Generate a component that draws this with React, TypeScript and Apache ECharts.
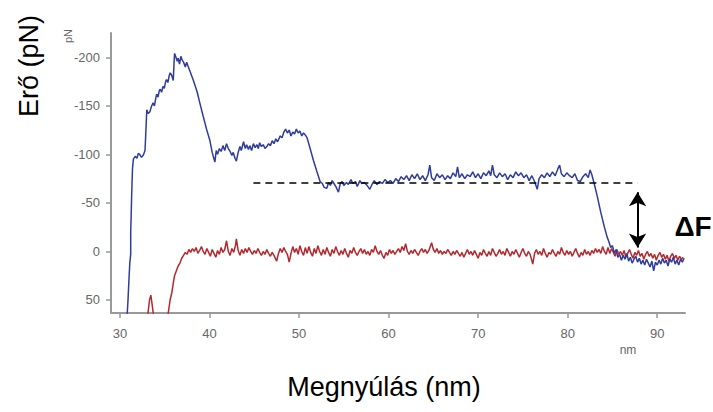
import React, { useEffect, useRef } from "react";
import * as echarts from "echarts";

const xTicks = [30, 40, 50, 60, 70, 80, 90];
const yTicks = [-200, -150, -100, -50, 0, 50];

const blueCurve: number[][] = [
  [30.8, 66], [30.9, 50], [31.0, 30], [31.1, 12], [31.2, 3], [31.2, -20], [31.25, -36], [31.3, -55], [31.35, -71], [31.4, -85],
  [31.5, -95], [31.7, -98], [31.9, -96], [32.05, -101], [32.2, -100], [32.4, -97], [32.6, -99], [32.8, -104], [32.9, -125], [33.0, -146],
  [33.15, -142], [33.35, -144], [33.5, -149], [33.7, -153], [33.85, -150], [34.0, -158], [34.1, -162], [34.25, -159], [34.4, -166], [34.5, -167],
  [34.65, -164], [34.8, -170], [34.95, -168], [35.1, -175], [35.2, -177], [35.35, -174], [35.5, -181], [35.6, -184], [35.75, -182], [35.9, -178],
  [35.95, -176], [36.05, -196], [36.1, -204], [36.25, -200], [36.4, -196], [36.5, -199], [36.65, -193], [36.8, -201], [36.95, -197], [37.1, -195],
  [37.3, -190], [37.45, -195], [37.6, -191], [37.8, -186], [38.2, -176], [38.6, -165], [39.0, -150], [39.3, -139], [39.7, -125], [40.05, -114],
  [40.3, -102], [40.45, -97], [40.6, -92], [40.75, -104], [40.9, -100], [41.1, -106], [41.3, -103], [41.5, -109], [41.7, -104], [41.9, -111],
  [42.1, -106], [42.3, -103], [42.5, -99], [42.65, -102], [42.85, -96], [43.0, -93], [43.2, -102], [43.4, -108], [43.55, -104], [43.8, -113],
  [44.0, -106], [44.15, -110], [44.35, -105], [44.5, -109], [44.7, -104], [44.9, -111], [45.1, -107], [45.3, -110], [45.45, -106], [45.6, -112],
  [45.8, -108], [46.0, -110], [46.2, -106], [46.4, -108], [46.6, -111], [46.8, -109], [47.0, -114], [47.2, -111], [47.4, -116], [47.6, -113],
  [47.9, -119], [48.1, -117], [48.3, -123], [48.5, -126], [48.7, -122], [48.9, -125], [49.1, -119], [49.3, -123], [49.5, -121], [49.7, -126],
  [49.9, -122], [50.1, -124], [50.3, -119], [50.5, -122], [50.7, -120], [50.9, -117], [51.3, -104], [51.6, -94], [52.0, -82], [52.35, -72],
  [52.6, -70], [52.8, -66], [53.1, -65], [53.3, -71], [53.5, -68], [53.7, -73], [53.9, -70], [54.1, -67], [54.4, -61], [54.6, -70],
  [54.8, -72], [55.0, -68], [55.3, -71], [55.5, -69], [55.8, -74], [56.0, -70], [56.3, -72], [56.5, -67], [56.8, -73], [57.0, -70],
  [57.3, -71], [57.6, -68], [57.9, -64], [58.2, -70], [58.4, -73], [58.7, -69], [59.0, -72], [59.3, -70], [59.6, -74], [59.9, -71],
  [60.2, -73], [60.5, -70], [60.8, -75], [61.1, -72], [61.4, -77], [61.7, -74], [62.0, -78], [62.3, -73], [62.6, -79], [62.9, -75],
  [63.2, -80], [63.5, -74], [63.8, -78], [64.1, -73], [64.4, -79], [64.6, -89], [64.8, -76], [65.1, -73], [65.4, -80], [65.7, -76],
  [66.0, -79], [66.3, -74], [66.6, -78], [66.9, -75], [67.2, -81], [67.5, -77], [67.7, -87], [67.9, -76], [68.2, -80], [68.5, -75],
  [68.8, -79], [69.1, -77], [69.4, -82], [69.7, -76], [70.0, -80], [70.3, -75], [70.6, -81], [70.9, -78], [71.2, -83], [71.4, -78],
  [71.6, -89], [71.8, -79], [72.1, -76], [72.4, -81], [72.7, -77], [73.0, -80], [73.3, -74], [73.6, -79], [73.9, -76], [74.2, -82],
  [74.5, -78], [74.8, -81], [75.1, -76], [75.4, -79], [75.7, -73], [76.0, -78], [76.3, -72], [76.6, -64], [76.8, -75], [77.1, -79],
  [77.4, -76], [77.7, -81], [78.0, -77], [78.3, -82], [78.6, -78], [78.9, -85], [79.1, -89], [79.3, -80], [79.6, -77], [79.9, -81],
  [80.2, -78], [80.5, -76], [80.8, -80], [81.1, -73], [81.4, -72], [81.7, -77], [82.0, -80], [82.3, -76], [82.5, -84], [82.7, -79],
  [82.9, -72], [83.3, -57], [83.7, -40], [84.1, -25], [84.4, -15], [84.6, -10], [84.8, -4], [85.0, -6], [85.2, 2], [85.4, -2],
  [85.6, 6], [85.8, 3], [86.0, 9], [86.2, 4], [86.4, 8], [86.6, 2], [86.8, 10], [87.0, 6], [87.2, 12], [87.4, 8],
  [87.6, 5], [87.8, 11], [88.0, 7], [88.2, 13], [88.4, 9], [88.6, 14], [88.8, 8], [89.0, 12], [89.2, 16], [89.4, 10],
  [89.6, 20], [89.8, 11], [90.0, 14], [90.2, 9], [90.4, 13], [90.6, 7], [90.8, 12], [91.0, 9], [91.2, 15], [91.4, 8],
  [91.6, 11], [91.8, 6], [92.0, 13], [92.2, 9], [92.4, 14], [92.6, 8], [92.8, 11], [93.0, 7],
];

const redBump: number[][] = [
  [33.1, 66], [33.3, 50], [33.45, 45], [33.6, 55], [33.75, 66],
];

const redCurve: number[][] = [
  [35.35, 66], [35.6, 50], [35.8, 42], [36.0, 30], [36.1, 25], [36.3, 20], [36.5, 15], [36.7, 12], [36.9, 7], [37.1, 4],
  [37.3, 1], [37.5, 3], [37.7, -2], [37.9, 1], [38.1, -3], [38.3, 0], [38.5, -4], [38.7, 2], [38.9, -1], [39.1, -5],
  [39.3, 0], [39.5, 3], [39.7, -3], [39.9, 1], [40.1, 5], [40.3, -2], [40.5, 2], [40.7, 6], [40.9, -1], [41.1, 3],
  [41.3, -4], [41.5, 1], [41.7, -2], [41.9, -11], [42.1, 0], [42.3, 4], [42.5, -3], [42.7, 1], [42.9, -6], [43.0, -13],
  [43.2, -1], [43.4, 4], [43.6, -2], [43.8, 2], [44.0, -3], [44.2, 1], [44.4, -4], [44.6, 0], [44.8, 3], [45.0, -1],
  [45.2, 2], [45.4, -3], [45.6, 1], [45.8, 4], [46.0, 0], [46.2, 3], [46.4, -2], [46.6, 2], [46.8, 5], [47.0, 1],
  [47.2, 4], [47.5, 10], [47.7, 2], [47.9, -3], [48.1, 1], [48.3, -4], [48.5, 0], [48.7, 3], [48.9, 11], [49.1, 2],
  [49.3, -5], [49.5, 1], [49.7, -3], [49.9, 3], [50.1, -6], [50.3, 0], [50.5, 4], [50.7, -4], [50.9, 2], [51.1, -5],
  [51.3, 1], [51.5, 5], [51.7, -3], [51.9, 2], [52.1, -6], [52.3, 0], [52.5, 4], [52.7, -2], [52.9, 3], [53.1, -4],
  [53.3, 1], [53.5, 5], [53.7, -2], [53.9, 2], [54.1, -5], [54.3, 0], [54.5, 4], [54.7, -1], [54.9, 3], [55.1, -3],
  [55.3, 2], [55.5, 6], [55.7, -1], [55.9, 2], [56.1, -4], [56.3, 1], [56.5, 4], [56.7, 0], [56.9, -3], [57.1, 2],
  [57.3, -2], [57.5, 3], [57.7, 0], [57.9, 4], [58.1, -2], [58.3, 1], [58.5, -6], [58.7, 0], [58.9, 3], [59.1, -1],
  [59.3, 4], [59.5, 7], [59.7, 1], [59.9, 4], [60.1, -2], [60.3, 2], [60.5, -1], [60.7, 3], [60.9, 0], [61.1, -3],
  [61.3, 1], [61.5, -5], [61.7, -1], [61.9, -8], [62.1, 0], [62.3, 3], [62.5, -1], [62.7, 2], [62.9, -2], [63.1, 1],
  [63.3, 4], [63.5, 0], [63.7, -3], [63.9, 1], [64.1, -2], [64.3, 2], [64.5, -1], [64.8, -9], [65.0, -2], [65.2, 1],
  [65.4, -3], [65.6, 2], [65.8, -1], [66.0, 3], [66.2, 0], [66.4, 2], [66.6, -2], [66.8, 1], [67.0, 4], [67.2, 0],
  [67.4, 3], [67.6, -1], [67.8, 2], [68.0, 5], [68.2, 1], [68.4, 6], [68.6, 2], [68.8, -2], [69.0, 3], [69.2, 0],
  [69.4, 4], [69.6, -1], [69.8, 3], [70.0, 7], [70.2, 1], [70.4, 4], [70.6, -2], [70.8, 2], [71.0, 5], [71.2, 0],
  [71.4, 4], [71.6, -3], [71.8, 1], [72.0, 5], [72.2, 2], [72.4, -2], [72.6, 3], [72.8, 0], [73.0, 4], [73.2, -3],
  [73.4, 1], [73.6, 5], [73.8, 0], [74.0, 3], [74.2, -2], [74.4, 2], [74.6, 6], [74.8, 1], [75.0, -3], [75.2, 2],
  [75.4, 5], [75.6, 0], [75.8, 3], [76.1, 13], [76.3, 2], [76.5, -2], [76.7, 3], [76.9, 0], [77.1, 4], [77.3, -3],
  [77.5, 2], [77.7, 6], [77.9, 1], [78.1, 3], [78.3, -2], [78.5, 2], [78.7, 5], [78.9, 0], [79.1, 3], [79.3, -4],
  [79.5, 1], [79.7, 4], [79.9, -1], [80.1, 3], [80.3, 0], [80.5, 5], [80.7, 1], [80.9, -3], [81.1, 2], [81.3, 6],
  [81.5, 1], [81.7, 4], [81.9, -2], [82.1, 3], [82.3, 0], [82.5, 4], [82.7, -1], [82.9, 2], [83.1, -3], [83.3, 1],
  [83.5, -2], [83.7, 2], [83.9, -5], [84.1, 0], [84.3, 3], [84.5, -4], [84.7, 2], [84.9, -3], [85.1, 1], [85.3, 5],
  [85.5, -2], [85.7, 3], [85.9, 0], [86.1, 4], [86.3, -1], [86.5, 6], [86.7, 2], [86.9, -2], [87.1, 3], [87.3, 7],
  [87.5, 1], [87.7, 4], [87.9, -1], [88.1, 5], [88.3, 2], [88.5, 8], [88.7, 3], [88.9, 0], [89.1, 5], [89.3, 2],
  [89.5, 7], [89.7, 3], [89.9, 9], [90.1, 4], [90.3, 1], [90.5, 6], [90.7, 3], [90.9, 8], [91.1, 4], [91.3, 10],
  [91.5, 5], [91.7, 2], [91.9, 7], [92.1, 4], [92.3, 9], [92.5, 5], [92.7, 8], [92.9, 6],
];

// annotation values (data coordinates)
const plateauLevel = -71;
const plateauFrom = 44.9;
const plateauTo = 87.8;
const deltaTop = -61;
const deltaBottom = -4;

export default function App() {
  const ref = useRef<HTMLDivElement>(null);
  useEffect(() => {
    if (!ref.current) return;
    const chart = echarts.init(ref.current, null, { renderer: "svg" });
    const axisColor = "#999999";
    const labelColor = "#666";
    chart.setOption({
      animation: false,
      backgroundColor: "#ffffff",
      grid: { left: 111, right: 28, top: 33, bottom: 99 },
      xAxis: {
        type: "value",
        min: 29,
        max: 93.1,
        axisLine: { show: true, onZero: false, lineStyle: { color: axisColor, width: 2 } },
        axisTick: { show: true, length: 5, customValues: xTicks, lineStyle: { color: axisColor, width: 1.5 } },
        axisLabel: { customValues: xTicks, color: labelColor, fontSize: 13, fontFamily: "Liberation Sans, Arial", margin: 14 },
        splitLine: { show: false },
      },
      yAxis: {
        type: "value",
        inverse: true,
        min: -225,
        max: 63.4,
        axisLine: { show: true, onZero: false, lineStyle: { color: axisColor, width: 2 } },
        axisTick: { show: true, length: 5, customValues: yTicks, lineStyle: { color: axisColor, width: 1.5 } },
        axisLabel: { customValues: yTicks, color: labelColor, fontSize: 13, fontFamily: "Liberation Sans, Arial", margin: 11 },
        splitLine: { show: false },
      },
      series: [
        {
          type: "line",
          data: redBump,
          showSymbol: false,
          lineStyle: { color: "#b3282d", width: 1.5 },
          clip: true,
        },
        {
          type: "line",
          data: redCurve,
          showSymbol: false,
          lineStyle: { color: "#b3282d", width: 1.5 },
          clip: true,
        },
        {
          type: "line",
          data: blueCurve,
          showSymbol: false,
          lineStyle: { color: "#2e3c9c", width: 1.5 },
          clip: true,
          markLine: {
            silent: true,
            label: { show: false },
            data: [
              [
                { coord: [plateauFrom, plateauLevel], symbol: "none", lineStyle: { color: "#000", width: 1.5, type: [7, 5] } },
                { coord: [plateauTo, plateauLevel], symbol: "none" },
              ],
              [
                { coord: [plateauTo, deltaTop], symbol: "arrow", symbolSize: [13, 14], lineStyle: { color: "#000", width: 2, type: "solid" } },
                { coord: [plateauTo, deltaBottom], symbol: "arrow", symbolSize: [13, 14] },
              ],
            ],
          },
        },
      ],
      graphic: [
        {
          type: "text",
          x: 29,
          y: 66,
          rotation: Math.PI / 2,
          style: { text: "Erő (pN)", font: "27px 'Liberation Sans', Arial", fill: "#000", align: "center", verticalAlign: "middle" },
        },
        {
          type: "text",
          x: 68,
          y: 36,
          rotation: Math.PI / 2,
          style: { text: "pN", font: "11px 'Liberation Sans', Arial", fill: labelColor, align: "center", verticalAlign: "middle" },
        },
        {
          type: "text",
          x: 628,
          y: 350,
          style: { text: "nm", font: "12px 'Liberation Sans', Arial", fill: labelColor, align: "center", verticalAlign: "middle" },
        },
        {
          type: "text",
          x: 384,
          y: 387,
          style: { text: "Megnyúlás (nm)", font: "27px 'Liberation Sans', Arial", fill: "#000", align: "center", verticalAlign: "middle" },
        },
        {
          type: "text",
          x: 693,
          y: 226,
          style: { text: "ΔF", font: "bold 28px 'Liberation Sans', Arial", fill: "#000", align: "center", verticalAlign: "middle" },
        },
      ],
    });
    return () => chart.dispose();
  }, []);
  return <div ref={ref} style={{ position: "absolute", left: 0, top: 0, width: 713, height: 412 }} />;
}
